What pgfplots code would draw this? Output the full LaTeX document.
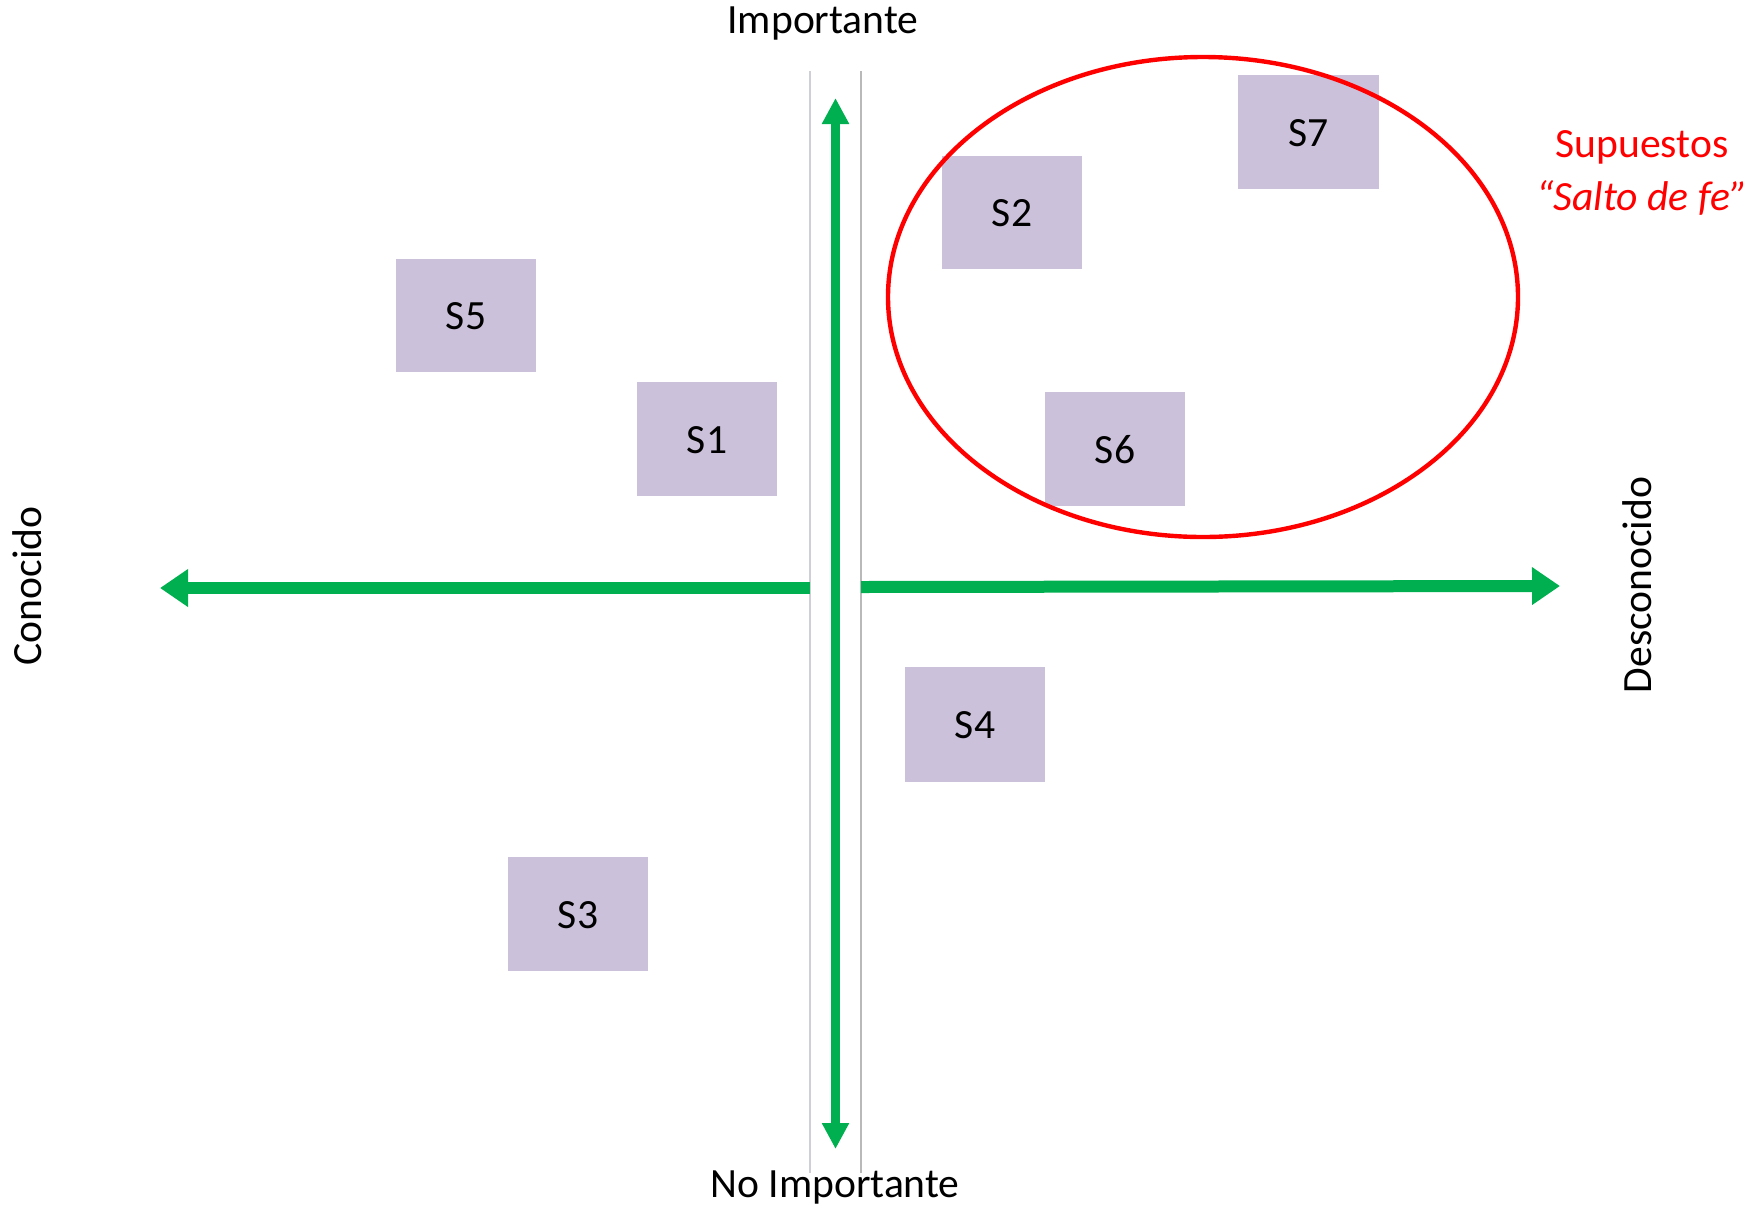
\documentclass[border=0pt]{standalone}
\usepackage{pgfplots}
\pgfplotsset{compat=1.18}
\usepackage{fontspec}
\setmainfont{Carlito}
\usetikzlibrary{arrows.meta}
\definecolor{boxc}{HTML}{CCC1DA}
\definecolor{arrg}{HTML}{00B050}
\definecolor{linec}{HTML}{CFCFD8}
\tikzset{lbl/.style={font=\fontsize{10.4pt}{12pt}\selectfont, inner sep=0pt, outer sep=0pt}}
\begin{document}
\begin{tikzpicture}
\begin{axis}[
  scale only axis, width=439pt, height=302.5pt,
  xmin=0, xmax=1756, ymin=0, ymax=1210, y dir=reverse,
  hide axis, clip=false,
]
% frame (invisible, fixes the extent)
\addplot[draw=none] coordinates {(0,0) (1756,1210)};
% gray guide lines
\addplot[linec, line width=0.3pt] coordinates {(810,71) (810,1173)};
\addplot[gray!55, line width=0.3pt] coordinates {(861,71) (861,1173)};
% horizontal arrow (two parts)
\addplot[arrg, line width=3pt, {Triangle[length=7pt,width=9pt]}-] coordinates {(160,588) (810,588)};
\addplot[arrg, line width=3pt, -{Triangle[length=7pt,width=9pt]}] coordinates {(861,587) (1560,586)};
% vertical arrow
\addplot[arrg, line width=2.1pt, {Triangle[length=6.5pt,width=6.4pt]}-{Triangle[length=6.5pt,width=6.4pt]}] coordinates {(835.5,98) (835.5,1149)};
% boxes
\addplot[fill=boxc, draw=none] coordinates {(1238,75) (1379,75) (1379,189) (1238,189)} -- cycle;
\addplot[fill=boxc, draw=none] coordinates {(942,156) (1082,156) (1082,269) (942,269)} -- cycle;
\addplot[fill=boxc, draw=none] coordinates {(396,259) (536,259) (536,372) (396,372)} -- cycle;
\addplot[fill=boxc, draw=none] coordinates {(637,382) (777,382) (777,496) (637,496)} -- cycle;
\addplot[fill=boxc, draw=none] coordinates {(1045,392) (1185,392) (1185,506) (1045,506)} -- cycle;
\addplot[fill=boxc, draw=none] coordinates {(905,667) (1045,667) (1045,782) (905,782)} -- cycle;
\addplot[fill=boxc, draw=none] coordinates {(508,857) (648,857) (648,971) (508,971)} -- cycle;
% box labels
\node[lbl] at (axis cs:1308.5,133) {S7};
\node[lbl] at (axis cs:1012,213.5) {S2};
\node[lbl] at (axis cs:466,316.5) {S5};
\node[lbl] at (axis cs:707,440) {S1};
\node[lbl] at (axis cs:1115,450) {S6};
\node[lbl] at (axis cs:975,725.5) {S4};
\node[lbl] at (axis cs:578,915) {S3};
% ellipse
\draw[red, line width=1.1pt] (axis cs:1203,297) ellipse [x radius=315, y radius=240];
% axis labels
\node[lbl] at (axis cs:823,23) {Importante};
\node[lbl] at (axis cs:835,1187) {No Importante};
\node[lbl, rotate=90] at (axis cs:27,586) {Conocido};
\node[lbl, rotate=90] at (axis cs:1637,585) {Desconocido};
\node[lbl, red] at (axis cs:1642,147) {Supuestos};
\node[lbl, red] at (axis cs:1642,198) {\itshape “Salto de fe”};
\end{axis}
\end{tikzpicture}
\end{document}
